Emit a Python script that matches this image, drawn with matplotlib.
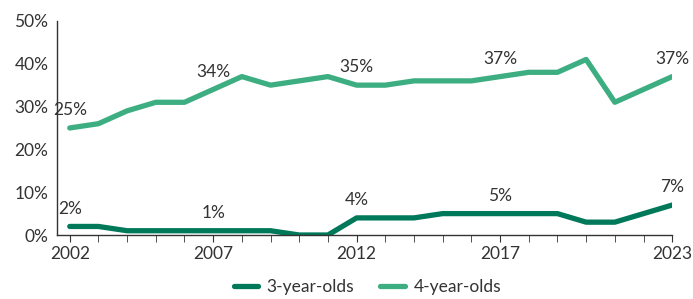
import matplotlib.pyplot as plt
import numpy as np

plt.rcParams['font.family'] = ['Lato', 'DejaVu Sans']

years = np.arange(2002, 2024)
three_year = [2, 2, 1, 1, 1, 1, 1, 1, 0, 0, 4, 4, 4, 5, 5, 5, 5, 5, 3, 3, 5, 7]
four_year = [25, 26, 29, 31, 31, 34, 37, 35, 36, 37, 35, 35, 36, 36, 36, 37, 38, 38, 41, 31, 34, 37]
label_years = [2002, 2007, 2012, 2017, 2023]

dark = '#00785A'
light = '#3DAE82'
txt = '#333333'
fs = 12.5

fig = plt.figure(figsize=(6.93, 2.99), dpi=100)
ax = fig.add_axes([0.082, 0.214, 0.888, 0.716])

ax.plot(years, three_year, color=dark, lw=3.8, solid_capstyle='round',
        solid_joinstyle='round', label='3-year-olds')
ax.plot(years, four_year, color=light, lw=3.8, solid_capstyle='round',
        solid_joinstyle='round', label='4-year-olds')

# data labels
for series in (three_year, four_year):
    for yr in label_years:
        v = series[yr - 2002]
        ax.annotate(f'{v}%', (yr, v), xytext=(0, 7), textcoords='offset points',
                    ha='center', va='bottom', fontsize=fs, color=txt)

ax.set_xlim(2001.55, 2023)
ax.set_ylim(0, 50)
ax.set_yticks(np.arange(0, 51, 10))
ax.set_yticklabels([f'{v}%' for v in range(0, 51, 10)])
ax.set_xticks(label_years)
ax.set_xticks(years, minor=True)
ax.tick_params(axis='y', length=0, labelsize=fs, labelcolor=txt, pad=6)
ax.tick_params(axis='x', which='both', direction='out', length=5, color=txt,
               labelsize=fs, labelcolor=txt, pad=3)
for s in ('top', 'right'):
    ax.spines[s].set_visible(False)
for s in ('left', 'bottom'):
    ax.spines[s].set_color(txt)
    ax.spines[s].set_linewidth(1)

leg = fig.legend(loc='lower center', bbox_to_anchor=(0.53, -0.04), ncol=2, frameon=False,
                 fontsize=fs, handlelength=1.4, columnspacing=1.5, handletextpad=0.5)
for t in leg.get_texts():
    t.set_color(txt)

fig.savefig('out.png', dpi=100)
